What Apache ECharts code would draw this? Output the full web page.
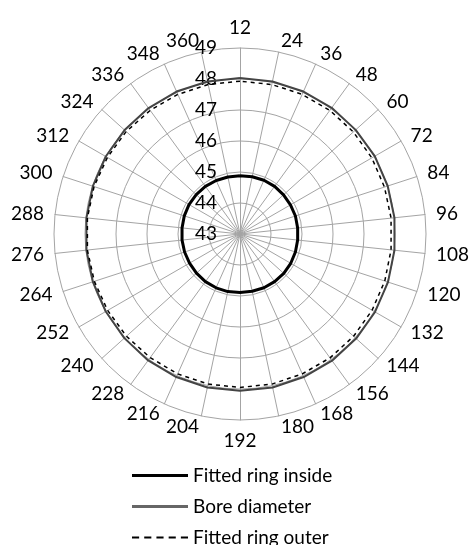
<!DOCTYPE html>
<html><head><meta charset="utf-8">
<script src="https://cdn.jsdelivr.net/npm/echarts@6/dist/echarts.min.js"></script>
<style>html,body{margin:0;padding:0;background:#fff}#c{width:470px;height:545px}</style>
</head><body><div id="c"></div>
<script>
const categories = ['12','24','36','48','60','72','84','96','108','120','132','144','156','168','180','192','204','216','228','240','252','264','276','288','300','312','324','336','348','360'];
const radialTicks = [43,44,45,46,47,48,49];
const fittedInside = [44.88,44.89,44.9,44.9,44.89,44.88,44.88,44.87,44.87,44.88,44.89,44.9,44.9,44.9,44.89,44.89,44.9,44.9,44.9,44.89,44.88,44.88,44.88,44.88,44.89,44.9,44.9,44.9,44.89,44.88];
const boreDiameter = [48.03,48.03,48.03,48.03,48.02,48.02,48.01,48.01,48.01,48.02,48.03,48.04,48.05,48.05,48.06,48.06,48.06,48.05,48.04,48.02,48.0,47.99,47.98,47.98,47.99,48.0,48.01,48.02,48.03,48.03];
const fittedOuter = [47.93,47.93,47.93,47.93,47.92,47.91,47.9,47.9,47.9,47.91,47.92,47.93,47.94,47.94,47.95,47.95,47.95,47.94,47.93,47.93,47.93,47.94,47.95,47.95,47.95,47.94,47.94,47.93,47.93,47.93];

const FONT = 'Lato';
const FS = 19;
const center = [240, 234];
const radius = 186;
// ECharts radar runs counter-clockwise; reorder so categories run clockwise from the top
const order = [0].concat(categories.map((c, i) => categories.length - 1 - i).slice(0, categories.length - 1));
const reorder = arr => order.map(i => arr[i]);
const minV = radialTicks[0], maxV = radialTicks[radialTicks.length - 1];

const chart = echarts.init(document.getElementById('c'), null, {renderer: 'canvas'});
chart.setOption({
  animation: false,
  backgroundColor: '#fff',
  textStyle: {fontFamily: FONT},
  radar: {
    center: center,
    radius: radius,
    shape: 'circle',
    splitNumber: radialTicks.length - 1,
    indicator: reorder(categories).map(n => ({name: n, min: minV, max: maxV})),
    axisName: {color: '#000', fontSize: FS, fontFamily: FONT},
    nameGap: 11,
    axisLine: {lineStyle: {color: '#a4a4a4', width: 1}},
    splitLine: {lineStyle: {color: '#a4a4a4', width: 1}},
    splitArea: {show: false},
    axisTick: {show: false},
    axisLabel: {show: false}
  },
  polar: {center: center, radius: [0, radius]},
  angleAxis: {type: 'value', min: 0, max: 360, startAngle: 90, show: false},
  radiusAxis: {
    type: 'value', min: minV, max: maxV, interval: 1,
    axisLine: {show: false}, axisTick: {show: false}, splitLine: {show: false},
    axisLabel: {show: true, color: '#000', fontSize: FS, fontFamily: FONT, margin: 23}
  },
  legend: {
    orient: 'vertical', left: 127, top: 461, height: 300, itemWidth: 56, itemHeight: 3, itemGap: 12,
    textStyle: {color: '#000', fontSize: FS, fontFamily: FONT},
    data: [
      {name: 'Fitted ring inside', icon: 'path://M0 0H56V3H0Z', itemStyle: {color: '#000'}},
      {name: 'Bore diameter', icon: 'path://M0 0H56V3H0Z', itemStyle: {color: '#666'}},
      {name: 'Fitted ring outer', icon: 'path://M0 0h7v2H0z M12 0h7v2h-7z M24 0h7v2h-7z M36 0h7v2h-7z M48 0h7v2h-7z', itemStyle: {color: '#000'}}
    ]
  },
  series: [{
    type: 'radar',
    symbol: 'none',
    data: [
      {name: 'Fitted ring inside', value: reorder(fittedInside), lineStyle: {color: '#000', width: 3}, itemStyle: {color: '#000'}},
      {name: 'Bore diameter', value: reorder(boreDiameter), lineStyle: {color: '#444', width: 2}, itemStyle: {color: '#666'}},
      {name: 'Fitted ring outer', value: reorder(fittedOuter), lineStyle: {color: '#000', width: 1.5, type: [4, 4]}, itemStyle: {color: '#000'}}
    ]
  }]
});
</script></body></html>
